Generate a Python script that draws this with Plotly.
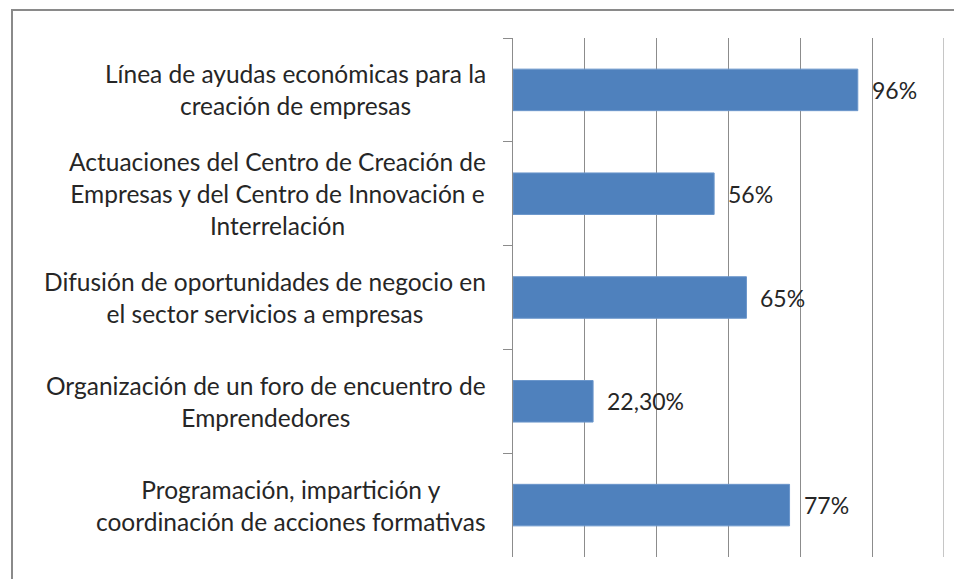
import plotly.graph_objects as go

categories = [
    "Línea de ayudas económicas para la<br>creación de empresas",
    "Actuaciones del Centro de Creación de<br>Empresas y del Centro de Innovación e<br>Interrelación",
    "Difusión de oportunidades de negocio en<br>el sector servicios a empresas",
    "Organización de un foro de encuentro de<br>Emprendedores",
    "Programación, impartición y<br>coordinación de acciones formativas",
]
values = [96, 56, 65, 22.3, 77]
value_labels = ["96%", "56%", "65%", "22,30%", "77%"]
x_ticks = [0, 20, 40, 60, 80, 100, 120]

FONT = "Lato"
TXT = "#262626"
GRID = "#8c8c8c"

fig = go.Figure()
fig.add_trace(go.Bar(
    y=categories, x=values, orientation="h",
    marker=dict(color="#4F81BD", line=dict(color="#6b96cb", width=1)),
    hoverinfo="skip",
))

ann = []
for c in categories:
    ann.append(dict(
        x=0, xref="paper", y=c, yref="y", text=c, showarrow=False,
        xanchor="right", yanchor="middle", align="center", xshift=-25,
        font=dict(family=FONT, size=24.5, color=TXT),
    ))
for c, v, t in zip(categories, values, value_labels):
    ann.append(dict(
        x=v, xref="x", y=c, yref="y", text=t, showarrow=False,
        xanchor="left", yanchor="middle", xshift=12,
        font=dict(family=FONT, size=23, color=TXT),
    ))

shapes = [dict(
    type="rect", xref="paper", yref="paper",
    xsizemode="pixel", ysizemode="pixel",
    xanchor=0, yanchor=1,
    x0=-501, x1=600, y0=28, y1=-700,
    line=dict(color="#8a8a8a", width=2), fillcolor="rgba(0,0,0,0)",
    layer="below",
)]
# gridline at the far end of the value axis (plotly skips it at the range edge)
shapes.append(dict(
    type="line", xref="x", yref="paper",
    x0=x_ticks[-1], x1=x_ticks[-1], y0=0, y1=1,
    line=dict(color=GRID, width=1), layer="below",
))

fig.update_layout(
    width=954, height=571,
    margin=dict(l=505, r=18, t=30, b=22),
    paper_bgcolor="white", plot_bgcolor="white",
    showlegend=False, bargap=0.6,
    annotations=ann,
    shapes=shapes,
    xaxis=dict(
        range=[0, 120], tickvals=x_ticks, showticklabels=False,
        showgrid=True, gridcolor=GRID, gridwidth=1, zeroline=False,
        showline=False, ticks="",
    ),
    yaxis=dict(
        categoryorder="array", categoryarray=categories, autorange="reversed",
        showticklabels=False, tickson="boundaries", ticks="outside",
        ticklen=9, tickcolor=GRID, showline=True, linecolor=GRID, linewidth=1,
        showgrid=False, zeroline=False,
    ),
)

fig.write_html("out.html")
